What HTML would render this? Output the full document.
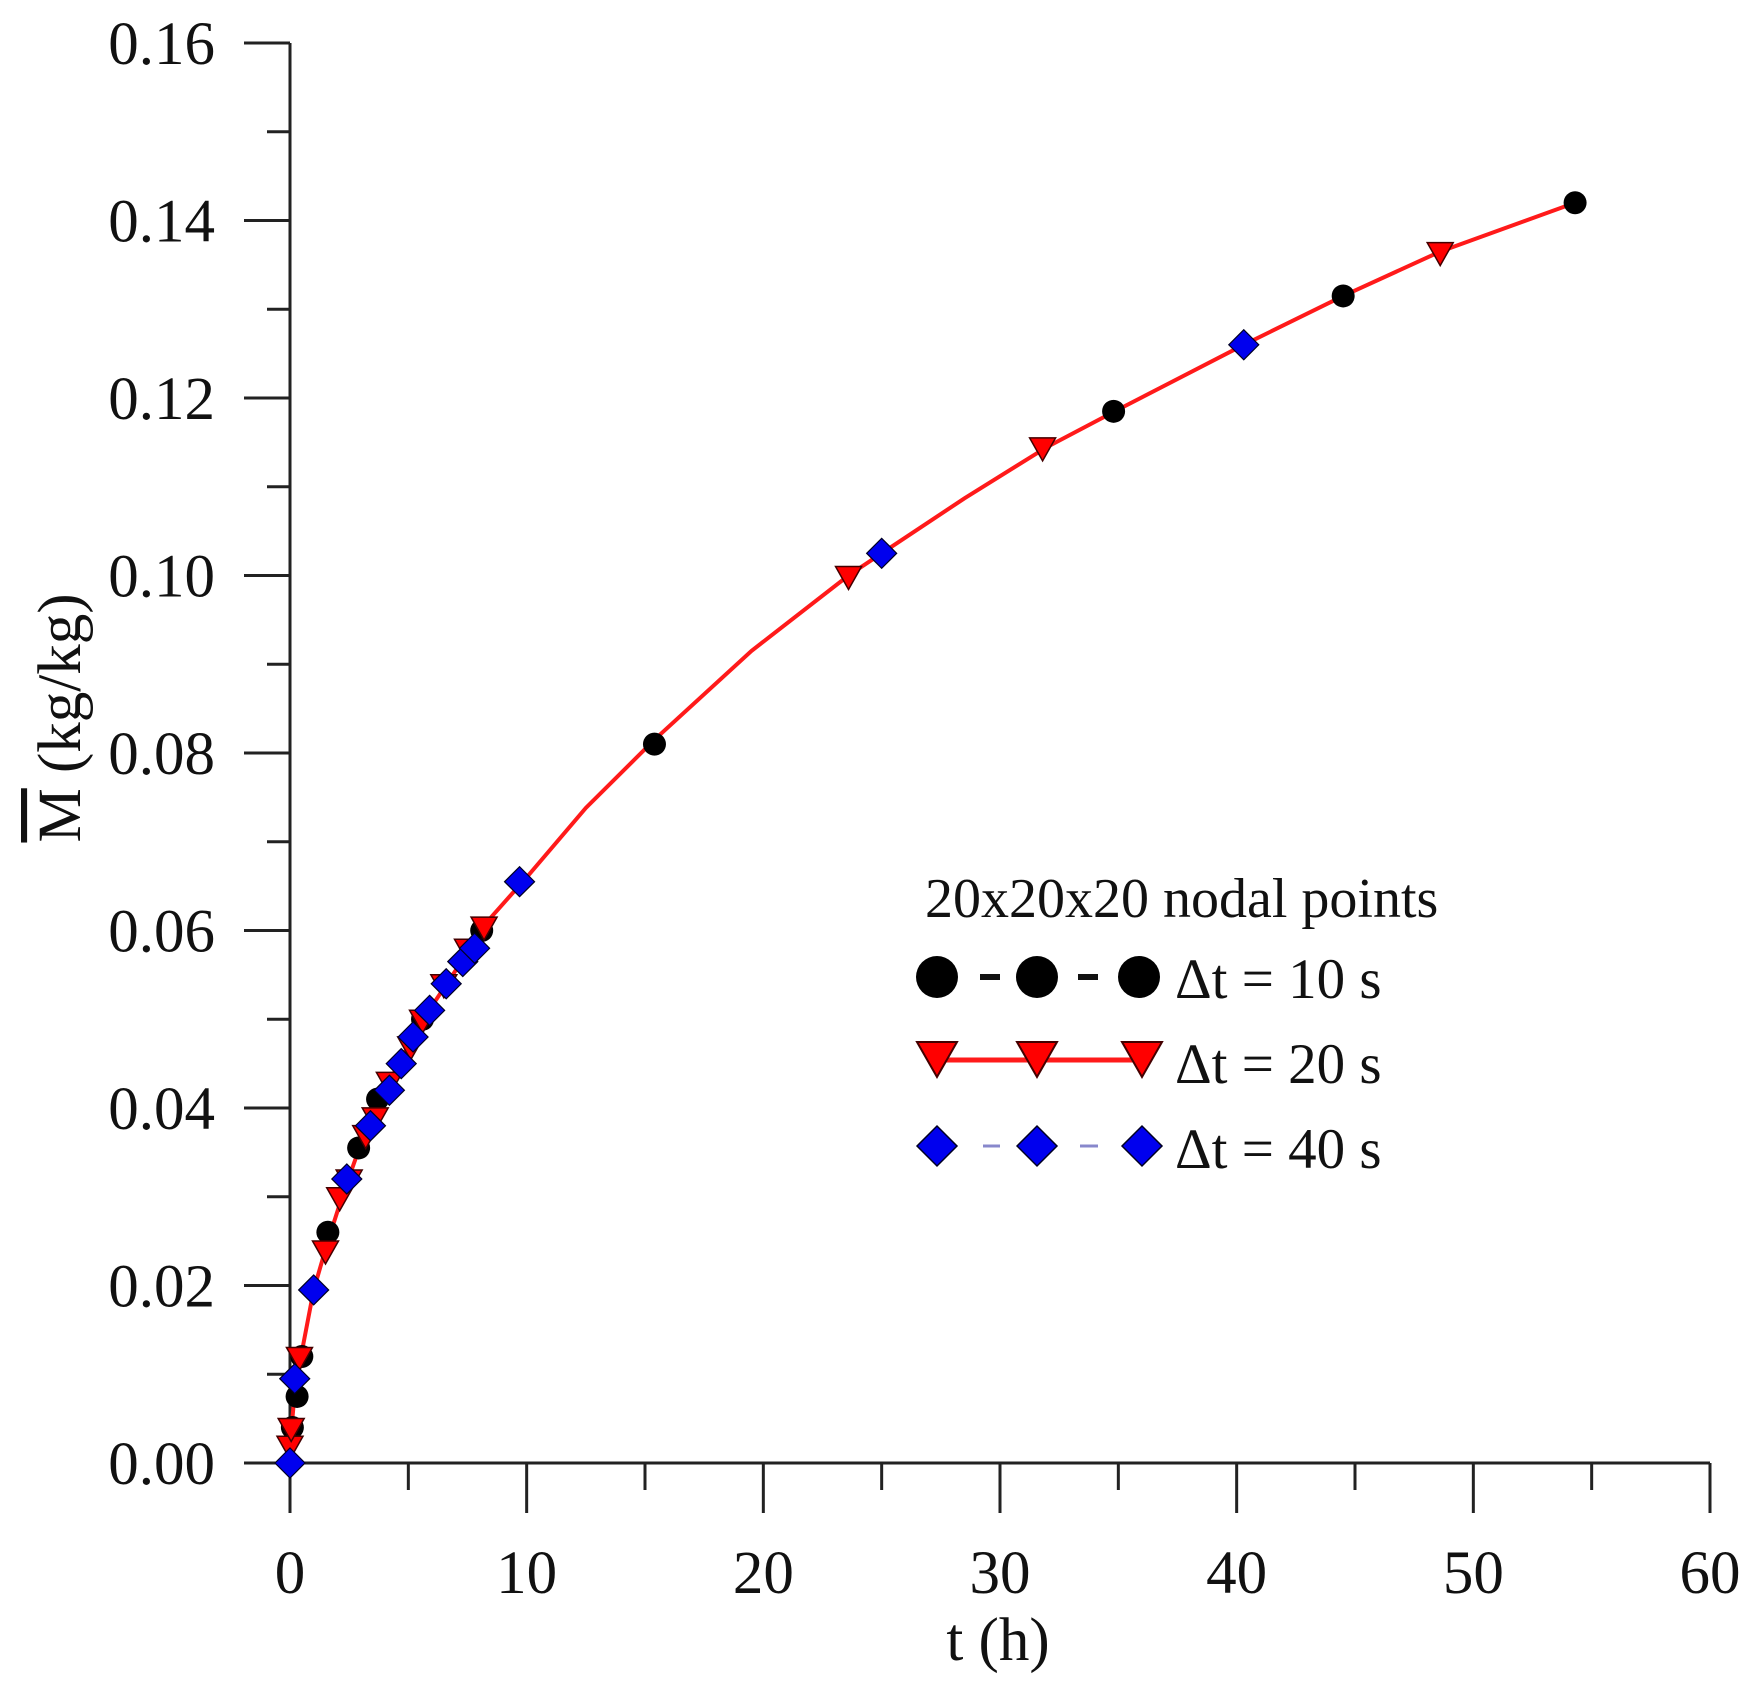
<!DOCTYPE html>
<html><head><meta charset="utf-8"><style>
html,body{margin:0;padding:0;background:#fff;}
svg{display:block;font-family:"Liberation Serif",serif;}
</style></head><body>
<svg id="s" width="1758" height="1699" viewBox="0 0 1758 1699" xmlns="http://www.w3.org/2000/svg">
<rect width="1758" height="1699" fill="#fff"/>
<g id="axes" stroke="#222" stroke-width="3" fill="none"></g>
<g id="labels" font-size="61" fill="#111"></g>
<path id="curve" fill="none" stroke="#ff1a1a" stroke-width="4"/>
<g id="marks"></g>
<text x="998" y="1660" font-size="61" text-anchor="middle" fill="#111">t (h)</text>
<g transform="translate(80,718) rotate(-90)">
<text x="0" y="0" font-size="61" text-anchor="middle" fill="#111"><tspan text-decoration="overline">M</tspan> (kg/kg)</text>
</g>
<!-- legend -->
<text x="925" y="917" font-size="56" fill="#111">20x20x20 nodal points</text>
<g>
<line x1="980" y1="977" x2="1000" y2="977" stroke="#111" stroke-width="6"/>
<line x1="1078" y1="977" x2="1098" y2="977" stroke="#111" stroke-width="6"/>
<circle cx="937" cy="977" r="21" fill="#000"/>
<circle cx="1037" cy="977" r="21" fill="#000"/>
<circle cx="1139" cy="977" r="21" fill="#000"/>
<text x="1175" y="998" font-size="57" fill="#111">Δt = 10 s</text>
<line x1="937" y1="1060" x2="1142" y2="1060" stroke="#ff1a1a" stroke-width="5"/>
<polygon points="917,1042 957,1042 937,1077" fill="#ff0000" stroke="#400" stroke-width="2"/>
<polygon points="1017,1042 1057,1042 1037,1077" fill="#ff0000" stroke="#400" stroke-width="2"/>
<polygon points="1122,1042 1162,1042 1142,1077" fill="#ff0000" stroke="#400" stroke-width="2"/>
<text x="1175" y="1083" font-size="57" fill="#111">Δt = 20 s</text>
<line x1="983" y1="1146" x2="1000" y2="1146" stroke="#8888cc" stroke-width="3"/>
<line x1="1080" y1="1146" x2="1098" y2="1146" stroke="#8888cc" stroke-width="3"/>
<polygon points="917,1146 937,1126 957,1146 937,1166" fill="#0000ee" stroke="#002" stroke-width="1.5"/>
<polygon points="1017,1146 1037,1126 1057,1146 1037,1166" fill="#0000ee" stroke="#002" stroke-width="1.5"/>
<polygon points="1122,1146 1142,1126 1162,1146 1142,1166" fill="#0000ee" stroke="#002" stroke-width="1.5"/>
<text x="1175" y="1168" font-size="57" fill="#111">Δt = 40 s</text>
</g>
</svg>
<script>
var NS="http://www.w3.org/2000/svg";
function X(t){return 290+t*(1420/60);}
function Y(m){return 1463-m*(1420/0.16);}
function el(p,tag,a){var e=document.createElementNS(NS,tag);for(var k in a)e.setAttribute(k,a[k]);p.appendChild(e);return e;}
var ax=document.getElementById('axes'),lb=document.getElementById('labels');
el(ax,'line',{x1:290,y1:43,x2:290,y2:1513});
el(ax,'line',{x1:244,y1:1463,x2:1710,y2:1463});
for(var i=0;i<=16;i++){var y=Y(i*0.01);var maj=i%2==0;
 el(ax,'line',{x1:maj?244:267,y1:y,x2:290,y2:y});
 if(maj){var t=el(lb,'text',{x:215,y:y+21,'text-anchor':'end'});t.textContent=(i*0.01).toFixed(2);}}
for(var i=0;i<=12;i++){var x=X(i*5);var maj=i%2==0;
 el(ax,'line',{x1:x,y1:1463,x2:x,y2:maj?1513:1490});
 if(maj){var t=el(lb,'text',{x:x,y:1593,'text-anchor':'middle'});t.textContent=i*5;}}
var pts=[[0,0],[0.1,0.005],[0.25,0.0095],[0.5,0.0125],[1,0.0195],[1.6,0.025],[2.2,0.03],[3,0.036],[4,0.042],[5,0.047],[6,0.0515],[7,0.0555],[8,0.06],[10,0.066],[12.5,0.0738],[15.4,0.0815],[19.5,0.0915],[23.6,0.1],[25,0.1025],[28.5,0.1087],[32,0.1145],[35,0.1187],[40.3,0.126],[44.5,0.1315],[48.6,0.1365],[54.3,0.142]];
var d='';pts.forEach(function(p,i){d+=(i?'L':'M')+X(p[0]).toFixed(1)+','+Y(p[1]).toFixed(1);});
document.getElementById('curve').setAttribute('d',d);
var mk=document.getElementById('marks');
var C=[[0.1,0.004],[0.3,0.0075],[0.5,0.012],[1.6,0.026],[2.9,0.0355],[3.7,0.041],[5.6,0.05],[8.1,0.06],[15.4,0.081],[34.8,0.1185],[44.5,0.1315],[54.3,0.142]];
var T=[[0,0.002],[0.05,0.004],[0.4,0.012],[1.5,0.024],[2.1,0.030],[2.5,0.032],[3.2,0.037],[3.6,0.039],[4.2,0.043],[5.1,0.047],[5.6,0.05],[6.5,0.054],[7.5,0.058],[8.2,0.0605],[23.6,0.1],[31.8,0.1145],[48.6,0.1365]];
var D=[[0,0],[0.2,0.0095],[1,0.0195],[2.4,0.032],[3.4,0.038],[4.2,0.042],[4.7,0.045],[5.2,0.048],[5.9,0.051],[6.6,0.054],[7.3,0.0565],[7.8,0.058],[9.7,0.0655],[25,0.1025],[40.3,0.126]];
C.forEach(function(p){el(mk,'circle',{cx:X(p[0]),cy:Y(p[1]),r:11.5,fill:'#000'});});
T.forEach(function(p){var x=X(p[0]),y=Y(p[1]);el(mk,'polygon',{points:(x-13)+','+(y-9)+' '+(x+13)+','+(y-9)+' '+x+','+(y+14),fill:'#ff0000',stroke:'#400','stroke-width':1.5});});
D.forEach(function(p){var x=X(p[0]),y=Y(p[1]);el(mk,'polygon',{points:(x-15)+','+y+' '+x+','+(y-15)+' '+(x+15)+','+y+' '+x+','+(y+15),fill:'#0000ee',stroke:'#002','stroke-width':1.2});});
</script>
</body></html>
